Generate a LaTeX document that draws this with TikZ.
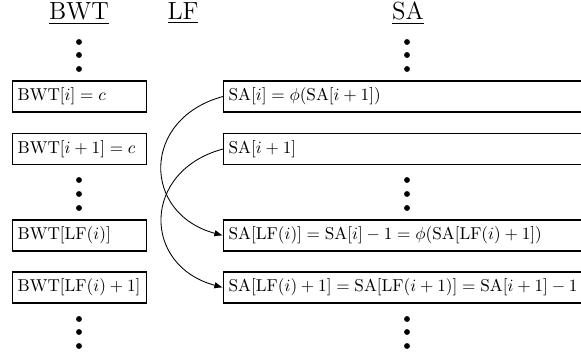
\documentclass[tikz,border=0pt]{standalone}
\usetikzlibrary{arrows.meta}
\begin{document}
\begin{tikzpicture}[x=0.5814pt,y=0.5814pt,
  cell/.style={draw, line width=0.6pt, anchor=west, inner xsep=3pt, inner ysep=0pt,
    minimum height=18.02pt, text height=7.5pt, text depth=2.5pt, align=left},
  bwtcell/.style={cell, text width=71.9pt},
  sacell/.style={cell, text width=213pt},
  head/.style={anchor=base, font=\Large},
  dotmark/.style={circle, fill, inner sep=0pt, minimum size=3.4pt},
  link/.style={-{Latex[length=5pt,width=3.8pt]}, line width=0.5pt}]
\clip (0,0) rectangle (581,355);
\useasboundingbox (0,0) rectangle (581,355);

% headers
\node[head] (hbwt) at (79,335) {\underline{BWT}};
\node[head] (hlf) at (183,335) {\underline{LF}};
\node[head] (hsa) at (408,335) {\underline{SA}};

% BWT column
\node[bwtcell] (b1) at (12,258.5) {$\mathrm{BWT}[i] = c$};
\node[bwtcell] (b2) at (12,206) {$\mathrm{BWT}[i+1] = c$};
\node[bwtcell] (b3) at (12,119.5) {$\mathrm{BWT}[\mathrm{LF}(i)]$};
\node[bwtcell] (b4) at (12,67.5) {$\mathrm{BWT}[\mathrm{LF}(i)+1]$};

% SA column
\node[sacell] (s1) at (223,258.5) {$\mathrm{SA}[i] = \phi(\mathrm{SA}[i+1])$};
\node[sacell] (s2) at (223,206) {$\mathrm{SA}[i+1]$};
\node[sacell] (s3) at (223,119.5) {$\mathrm{SA}[\mathrm{LF}(i)] = \mathrm{SA}[i]-1 = \phi(\mathrm{SA}[\mathrm{LF}(i)+1])$};
\node[sacell] (s4) at (223,67.5) {$\mathrm{SA}[\mathrm{LF}(i)+1] = \mathrm{SA}[\mathrm{LF}(i+1)] = \mathrm{SA}[i+1]-1$};

% dots
\foreach \x/\c in {79/b, 407/s}{
  \foreach \y/\n in {313/1, 300/2, 286/3, 175/4, 161/5, 147/6, 36/7, 23/8, 9/9}{
    \node[dotmark] (\c dot\n) at (\x,\y) {};
  }
}

% arrows
\draw[link] (s1.west) to[out=195,in=165,looseness=1.56] (s3.west);
\draw[link] (s2.west) to[out=195,in=165,looseness=1.56] (s4.west);
\end{tikzpicture}
\end{document}
